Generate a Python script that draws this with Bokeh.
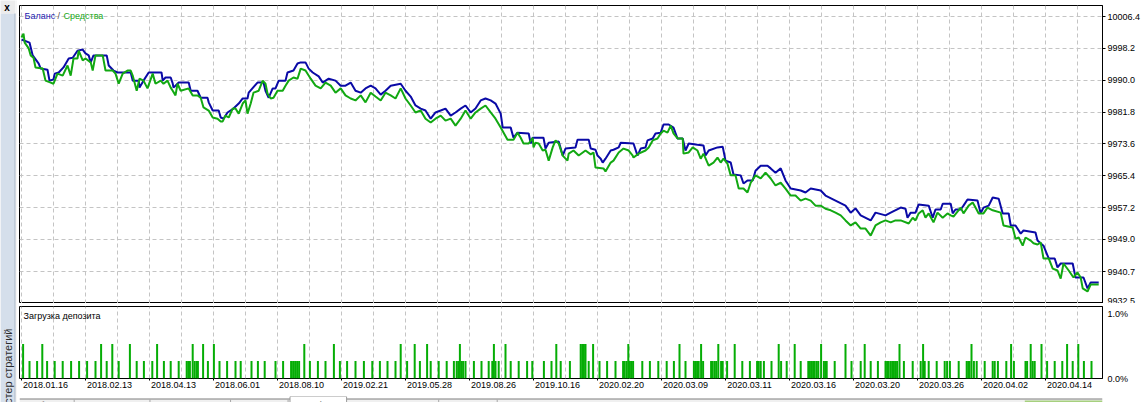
import math
from bokeh.plotting import figure
from bokeh.layouts import row, column
from bokeh.models import Range1d, FixedTicker, LinearAxis, Grid
from bokeh.core.properties import value
from bokeh.embed import file_html
from bokeh.resources import INLINE

# ---------------- data ----------------
tick_trades = [0, 16, 32, 48, 64, 80, 96, 112, 128, 144, 160, 176, 192, 208, 224, 240, 256]
tick_dates = ["2018.01.16", "2018.02.13", "2018.04.13", "2018.06.01", "2018.08.10",
              "2019.02.21", "2019.05.28", "2019.08.26", "2019.10.16", "2020.02.20",
              "2020.03.09", "2020.03.11", "2020.03.16", "2020.03.20", "2020.03.26",
              "2020.04.02", "2020.04.14"]
grid_trades = list(range(0, 271, 8))

y_ticks = [9932.5, 9940.7, 9949.0, 9957.2, 9965.4, 9973.6, 9981.8, 9990.0, 9998.2, 10006.4]
y_tick_labels = ["9932.5", "9940.7", "9949.0", "9957.2", "9965.4", "9973.6", "9981.8",
                 "9990.0", "9998.2", "10006.4"]
load_ticks = [0.0, 1.0]
load_tick_labels = ["0.0%", "1.0%"]

balance_trade = [
    0.0, 2.0, 2.8, 4.3, 4.8, 6.5, 7.0, 8.0, 8.3, 9.3, 10.5, 11.8, 12.8, 14.0, 15.3, 16.0, 16.8, 17.3,
    18.0, 21.3, 21.8, 23.0, 24.0, 27.3, 27.8, 29.3, 29.5, 30.5, 31.8, 35.0, 35.3, 36.0, 37.3, 37.8,
    38.0, 39.3, 41.8, 42.3, 44.0, 44.8, 46.5, 46.8, 47.8, 49.3, 49.8, 50.5, 51.5, 53.0, 54.3, 55.3,
    56.5, 56.8, 59.0, 60.5, 61.0, 61.8, 62.8, 63.5, 64.3, 66.0, 66.5, 68.0, 69.0, 69.8, 71.0, 71.8,
    72.8, 74.3, 75.3, 76.8, 78.5, 79.8, 81.0, 82.3, 83.5, 84.8, 86.0, 87.3, 88.5, 89.8, 91.0, 92.3,
    94.8, 96.0, 97.3, 98.5, 99.8, 101.0, 102.3, 103.5, 104.8, 106.0, 107.3, 108.5, 109.8, 111.0,
    112.3, 113.5, 114.8, 116.0, 117.3, 118.5, 119.8, 120.3, 122.3, 123.0, 124.0, 126.8, 127.3,
    127.8, 130.5, 131.0, 131.8, 134.3, 135.3, 136.0, 138.5, 139.0, 141.8, 142.3, 143.5, 144.0,
    144.8, 145.3, 146.0, 147.3, 148.0, 149.3, 149.8, 153.0, 154.0, 154.8, 156.0, 156.5, 157.8,
    158.5, 159.8, 160.5, 161.8, 163.0, 164.0, 165.3, 166.0, 166.8, 169.0, 170.5, 171.0, 171.8,
    174.0, 175.3, 176.0, 177.3, 178.0, 179.8, 180.5, 181.5, 182.8, 183.5, 184.8, 186.5, 187.3,
    188.5, 189.8, 191.0, 192.3, 194.8, 196.0, 197.3, 199.8, 201.0, 203.5, 206.0, 207.3, 208.5,
    209.8, 212.3, 213.5, 216.0, 217.3, 219.8, 221.0, 221.5, 222.3, 223.5, 224.3, 226.8, 227.8,
    228.5, 229.8, 230.3, 232.3, 232.8, 233.5, 234.8, 235.5, 236.5, 239.0, 239.8, 240.5, 241.8,
    242.8, 244.3, 245.3, 246.8, 247.3, 248.5, 249.8, 250.5, 253.5, 254.0, 255.5, 256.8, 258.3,
    259.0, 259.8, 262.8, 263.5, 265.5, 266.5, 267.3, 269.3]
balance_value = [
    10000.5, 9999.7, 9996.4, 9994.3, 9993.0, 9992.7, 9989.9, 9990.2, 9991.7, 9992.0, 9993.3, 9995.6,
    9995.8, 9997.6, 9997.9, 9996.9, 9996.4, 9994.6, 9996.4, 9996.4, 9993.8, 9992.5, 9992.0, 9992.0,
    9989.9, 9989.9, 9988.1, 9989.9, 9992.0, 9992.0, 9989.9, 9990.7, 9990.7, 9989.2, 9988.1, 9989.4,
    9989.4, 9987.3, 9987.3, 9985.5, 9985.5, 9984.3, 9982.2, 9982.2, 9980.4, 9980.1, 9981.7, 9982.7,
    9984.0, 9985.3, 9985.3, 9986.8, 9989.4, 9989.4, 9987.3, 9985.5, 9987.9, 9987.9, 9989.9, 9989.9,
    9992.0, 9992.5, 9994.3, 9994.6, 9994.6, 9993.0, 9992.0, 9991.0, 9989.4, 9990.4, 9989.9, 9988.6,
    9988.6, 9989.4, 9987.3, 9986.8, 9987.9, 9988.6, 9987.9, 9986.3, 9987.3, 9988.6, 9989.1, 9987.3,
    9985.8, 9983.5, 9982.7, 9982.2, 9980.1, 9981.7, 9982.2, 9982.7, 9980.9, 9981.7, 9982.7, 9983.5,
    9981.7, 9982.7, 9984.8, 9985.3, 9984.8, 9984.0, 9981.4, 9977.8, 9977.8, 9975.2, 9976.5, 9976.3,
    9973.7, 9975.2, 9975.2, 9972.4, 9973.9, 9974.2, 9970.6, 9972.4, 9972.7, 9974.7, 9974.7, 9972.4,
    9972.1, 9970.6, 9969.8, 9968.8, 9969.8, 9971.9, 9972.1, 9972.7, 9973.9, 9973.7, 9970.6, 9972.4,
    9972.7, 9974.5, 9975.0, 9976.3, 9976.5, 9978.6, 9978.6, 9977.8, 9975.0, 9975.0, 9971.9, 9973.7,
    9973.4, 9973.2, 9970.6, 9971.9, 9972.7, 9972.9, 9969.3, 9968.8, 9965.7, 9965.5, 9963.4, 9964.2,
    9964.2, 9966.7, 9968.0, 9968.0, 9967.3, 9966.2, 9967.3, 9964.2, 9962.1, 9961.6, 9961.1, 9962.1,
    9961.6, 9960.3, 9959.0, 9957.7, 9955.9, 9957.0, 9955.2, 9953.9, 9955.9, 9955.2, 9955.9, 9957.2,
    9956.9, 9954.6, 9955.9, 9955.9, 9958.0, 9957.7, 9954.6, 9956.7, 9956.7, 9958.2, 9958.2, 9955.7,
    9956.7, 9956.7, 9957.7, 9959.3, 9959.0, 9955.7, 9957.2, 9957.7, 9959.8, 9959.5, 9955.7, 9955.7,
    9952.6, 9952.6, 9950.5, 9951.3, 9950.8, 9948.7, 9947.4, 9944.1, 9944.1, 9941.8, 9942.8, 9942.8,
    9939.2, 9939.2, 9936.4, 9937.9, 9937.9]

equity_trade = [
    0.0, 0.5, 0.8, 1.8, 2.3, 3.0, 3.5, 5.3, 6.0, 7.3, 8.0, 9.0, 10.3, 11.5, 12.3, 13.0, 14.0, 14.3,
    15.3, 16.0, 17.3, 17.8, 18.5, 20.3, 21.0, 22.8, 23.5, 24.3, 25.3, 26.5, 27.3, 27.8, 28.8, 29.5,
    30.5, 31.5, 32.8, 33.5, 34.8, 35.5, 36.5, 37.3, 37.8, 38.5, 39.0, 39.8, 41.8, 42.8, 44.0, 44.8,
    45.5, 46.8, 47.8, 49.0, 49.8, 50.3, 51.0, 51.8, 52.8, 53.5, 54.3, 55.3, 56.0, 56.5, 57.3, 58.0,
    59.3, 60.3, 61.0, 61.5, 62.3, 63.0, 64.0, 65.3, 66.0, 66.8, 68.0, 69.0, 69.8, 71.0, 72.3, 73.5,
    74.8, 76.0, 77.3, 78.5, 79.8, 81.0, 82.3, 83.5, 84.8, 86.0, 87.3, 88.5, 89.8, 91.0, 92.3, 93.5,
    94.8, 96.0, 97.3, 98.5, 99.8, 101.0, 102.3, 103.5, 104.8, 106.0, 107.3, 108.5, 109.8, 111.0,
    112.3, 113.5, 114.8, 116.0, 117.3, 118.5, 119.8, 121.5, 123.0, 124.0, 124.8, 125.5, 126.8,
    127.8, 128.0, 128.5, 129.3, 130.3, 131.0, 131.8, 132.8, 133.5, 134.3, 135.3, 136.5, 136.8,
    138.0, 139.3, 141.0, 142.3, 143.0, 143.5, 145.5, 146.0, 147.3, 148.0, 149.3, 150.5, 151.8,
    152.8, 153.0, 154.3, 156.0, 156.8, 157.8, 159.0, 159.8, 160.5, 161.5, 162.3, 163.0, 164.0,
    165.3, 165.5, 166.8, 167.8, 169.0, 169.8, 170.5, 171.8, 173.0, 174.0, 174.8, 175.5, 176.5,
    177.3, 178.5, 179.3, 180.5, 181.5, 182.3, 183.5, 184.8, 186.0, 187.3, 188.5, 189.8, 191.0,
    192.3, 193.5, 194.8, 196.0, 197.3, 198.5, 199.8, 201.0, 202.3, 203.5, 204.8, 206.0, 207.3,
    208.5, 209.8, 211.0, 212.3, 213.5, 214.8, 216.0, 217.3, 218.5, 219.8, 221.8, 222.8, 223.5,
    224.3, 225.3, 226.0, 226.8, 228.0, 229.0, 230.3, 231.5, 232.3, 233.0, 234.8, 235.5, 236.8,
    237.8, 238.5, 239.3, 240.5, 241.5, 242.8, 244.8, 245.5, 247.8, 248.5, 249.3, 250.3, 251.0,
    252.3, 253.0, 254.0, 254.8, 255.5, 256.8, 257.8, 259.0, 259.8, 260.5, 261.8, 263.0, 264.0,
    264.8, 265.3, 266.5, 267.3, 269.3]
equity_value = [
    10001.0, 10002.0, 9999.7, 9998.2, 9996.4, 9995.8, 9993.3, 9993.0, 9989.9, 9989.4, 9989.1,
    9991.7, 9991.2, 9993.8, 9991.2, 9995.6, 9995.6, 9997.6, 9995.1, 9995.6, 9994.6, 9992.5, 9996.4,
    9996.4, 9992.5, 9992.5, 9991.7, 9989.1, 9991.7, 9992.5, 9992.5, 9991.2, 9987.3, 9990.4, 9989.9,
    9987.9, 9991.7, 9989.1, 9989.9, 9989.1, 9989.9, 9988.1, 9987.3, 9986.1, 9989.1, 9987.3, 9987.9,
    9986.1, 9986.1, 9985.5, 9983.0, 9982.2, 9980.4, 9980.1, 9979.4, 9979.4, 9980.9, 9980.4, 9982.7,
    9982.7, 9981.4, 9984.0, 9984.8, 9981.4, 9984.0, 9986.8, 9987.3, 9989.9, 9989.1, 9986.6, 9985.3,
    9985.5, 9987.3, 9987.3, 9988.6, 9989.9, 9990.7, 9990.4, 9993.0, 9992.5, 9990.4, 9988.6, 9987.9,
    9989.4, 9988.6, 9986.8, 9987.9, 9986.1, 9985.3, 9984.8, 9986.1, 9984.3, 9986.8, 9985.8, 9984.8,
    9986.8, 9986.1, 9985.3, 9987.9, 9985.3, 9983.5, 9981.7, 9982.2, 9980.1, 9979.1, 9980.1, 9980.9,
    9979.6, 9980.1, 9978.3, 9980.1, 9982.2, 9980.1, 9981.7, 9982.7, 9983.5, 9981.7, 9980.1, 9977.8,
    9974.7, 9974.7, 9976.5, 9975.2, 9973.7, 9973.7, 9975.2, 9972.7, 9973.9, 9973.7, 9971.9, 9972.1,
    9969.3, 9972.7, 9974.5, 9973.7, 9970.6, 9969.3, 9971.1, 9971.9, 9970.6, 9971.9, 9970.9, 9971.4,
    9967.5, 9967.3, 9966.5, 9968.8, 9969.3, 9971.4, 9972.4, 9971.9, 9970.6, 9970.1, 9971.1, 9971.9,
    9972.7, 9974.5, 9975.0, 9976.3, 9977.0, 9976.5, 9978.3, 9976.3, 9975.0, 9975.0, 9971.1, 9971.4,
    9972.7, 9971.9, 9969.8, 9971.1, 9968.0, 9968.8, 9970.1, 9968.8, 9969.8, 9968.5, 9965.5, 9965.5,
    9962.1, 9962.1, 9961.1, 9963.6, 9965.5, 9964.7, 9966.2, 9964.7, 9962.9, 9963.6, 9962.1, 9960.3,
    9960.3, 9959.0, 9959.5, 9959.0, 9957.7, 9957.7, 9956.9, 9956.5, 9955.9, 9955.2, 9953.9, 9952.6,
    9953.4, 9951.8, 9951.8, 9950.0, 9952.6, 9953.4, 9953.9, 9953.4, 9953.9, 9953.9, 9953.1, 9954.6,
    9953.9, 9955.7, 9956.5, 9954.6, 9955.7, 9953.4, 9955.9, 9954.6, 9955.7, 9955.2, 9954.9, 9957.2,
    9955.7, 9957.7, 9958.5, 9957.2, 9955.7, 9955.7, 9957.2, 9956.5, 9955.9, 9952.6, 9952.1, 9949.2,
    9949.5, 9947.4, 9949.5, 9948.7, 9948.0, 9947.7, 9948.2, 9944.1, 9944.1, 9941.5, 9941.0, 9938.9,
    9942.8, 9941.0, 9939.2, 9940.5, 9939.2, 9936.4, 9935.6, 9937.4, 9937.4]

load_trade = [
    0.4, 2.0, 3.9, 5.2, 6.4, 8.3, 10.3, 12.4, 14.4, 16.4,
    18.5, 19.9, 21.3, 22.7, 24.3, 27.1, 28.8, 30.6, 32.7, 33.9,
    35.6, 37.3, 39.3, 41.3, 41.7, 42.1, 42.8, 43.3, 43.8, 44.1,
    45.4, 46.6, 48.1, 49.5, 51.4, 53.5, 54.8, 57.5, 59.1, 60.8,
    63.5, 65.4, 67.4, 67.9, 68.4, 68.9, 69.4, 70.7, 72.1, 74.1,
    76.0, 78.1, 79.6, 81.4, 83.5, 85.6, 87.7, 89.6, 91.5, 93.5,
    94.8, 96.4, 98.3, 99.6, 101.4, 102.3, 104.3, 106.3, 108.1, 108.8,
    109.2, 109.6, 110.0, 110.4, 111.0, 113.1, 115.0, 116.8, 117.7, 118.1,
    118.5, 119.3, 121.0, 122.3, 124.3, 126.4, 127.7, 130.6, 132.5, 133.7,
    134.8, 137.1, 139.8, 140.2, 140.6, 141.0, 141.8, 142.9, 144.5, 146.4,
    148.5, 150.4, 150.8, 151.3, 151.7, 152.1, 152.5, 152.9, 155.2, 157.1,
    159.2, 161.3, 163.1, 164.5, 166.0, 168.1, 168.5, 168.9, 169.3, 169.9,
    170.4, 172.4, 172.8, 173.3, 173.7, 174.2, 174.9, 175.3, 176.4, 178.3,
    180.2, 182.1, 183.9, 184.3, 184.8, 185.6, 187.5, 189.3, 189.9, 191.3,
    193.3, 194.8, 196.7, 197.1, 197.5, 197.9, 198.3, 198.8, 199.2, 199.9,
    200.6, 201.0, 201.3, 203.3, 206.0, 207.5, 209.8, 210.8, 212.3, 214.1,
    216.0, 216.4, 216.8, 217.3, 217.7, 218.1, 218.5, 218.9, 219.5, 220.6,
    222.8, 224.8, 225.4, 225.8, 226.8, 228.8, 230.8, 231.4, 232.1, 234.3,
    236.3, 236.7, 237.0, 237.5, 238.1, 238.8, 240.8, 242.8, 243.3, 244.1,
    246.2, 247.4, 248.1, 251.0, 251.4, 252.3, 252.8, 253.3, 255.0, 256.4,
    258.3, 260.2, 261.4, 262.8, 264.2, 265.6, 267.5]
load_pct = [
    0.53, 0.27, 0.27, 0.53, 0.27, 0.27, 0.27, 0.27, 0.27, 0.27,
    0.27, 0.53, 0.27, 0.53, 0.27, 0.53, 0.27, 0.27, 0.27, 0.53,
    0.27, 0.27, 0.27, 0.27, 0.27, 0.27, 0.53, 0.27, 0.27, 0.27,
    0.53, 0.27, 0.53, 0.27, 0.27, 0.27, 0.27, 0.27, 0.27, 0.27,
    0.27, 0.27, 0.27, 0.27, 0.27, 0.27, 0.27, 0.53, 0.27, 0.27,
    0.27, 0.53, 0.27, 0.27, 0.27, 0.27, 0.27, 0.27, 0.27, 0.27,
    0.53, 0.27, 0.53, 0.27, 0.53, 0.27, 0.27, 0.27, 0.27, 0.27,
    0.27, 0.53, 0.27, 0.27, 0.27, 0.27, 0.27, 0.27, 0.27, 0.53,
    0.27, 0.27, 0.53, 0.27, 0.27, 0.27, 0.27, 0.27, 0.27, 0.53,
    0.27, 0.27, 0.53, 0.53, 0.53, 0.53, 0.27, 0.53, 0.27, 0.27,
    0.27, 0.27, 0.27, 0.27, 0.53, 0.27, 0.27, 0.27, 0.27, 0.27,
    0.27, 0.27, 0.27, 0.53, 0.27, 0.27, 0.27, 0.27, 0.27, 0.53,
    0.27, 0.27, 0.27, 0.27, 0.27, 0.53, 0.27, 0.27, 0.27, 0.53,
    0.27, 0.27, 0.27, 0.27, 0.27, 0.27, 0.27, 0.53, 0.27, 0.27,
    0.53, 0.27, 0.27, 0.27, 0.27, 0.27, 0.27, 0.27, 0.27, 0.53,
    0.27, 0.27, 0.27, 0.27, 0.53, 0.27, 0.27, 0.53, 0.27, 0.27,
    0.27, 0.27, 0.27, 0.27, 0.27, 0.27, 0.27, 0.27, 0.53, 0.27,
    0.27, 0.27, 0.53, 0.27, 0.27, 0.27, 0.27, 0.27, 0.27, 0.27,
    0.27, 0.27, 0.27, 0.53, 0.27, 0.27, 0.27, 0.27, 0.27, 0.27,
    0.27, 0.53, 0.27, 0.27, 0.27, 0.53, 0.27, 0.27, 0.53, 0.27,
    0.27, 0.27, 0.53, 0.27, 0.53, 0.27, 0.27]

title_parts = ["Баланс", "/", "Средства"]
load_title = "Загрузка депозита"
side_title = "Тестер стратегий"
tab_labels = ["Обзор", "Настройки", "Параметры", "Бэктест", "График", "Оптимизация", "Агенты", "Журнал"]

# ---------------- style / geometry ----------------
FONT = "Liberation Sans"
BLUE = "#0a0aa6"
GREEN = "#12a812"
BAR_GREEN = "#05ad05"
GRID = "#c4c4c4"
SIDE_W = 17
FRAME_W = 1083
TOP_FRAME_H = 298
BOT_FRAME_H = 72
PX_PER_TRADE = 4.0
X0 = -0.5
Y_MIN, Y_MAX = 9932.5, 10009.25
LOAD_MAX = 1.108

xr = Range1d(X0, X0 + FRAME_W / PX_PER_TRADE)


def x_at(px):
    return X0 + (px - 19) / PX_PER_TRADE


def top_y_at(py):
    return Y_MAX - (py - 5) * (Y_MAX - Y_MIN) / TOP_FRAME_H


def bot_y_at(py):
    return LOAD_MAX - (py - 306) * LOAD_MAX / BOT_FRAME_H


def base(**kw):
    return figure(toolbar_location=None, output_backend="svg", **kw)


# ---------------- top: balance / equity ----------------
top = base(frame_width=FRAME_W, frame_height=TOP_FRAME_H, x_range=xr,
           y_range=Range1d(Y_MIN, Y_MAX), x_axis_type=None, y_axis_location="right",
           min_border_left=2, min_border_right=44, min_border_top=5, min_border_bottom=0,
           background_fill_color="white", border_fill_color="white",
           outline_line_color="black", outline_line_width=1)
ya = top.yaxis[0]
ya.ticker = FixedTicker(ticks=y_ticks)
ya.major_label_overrides = dict(zip(y_ticks, y_tick_labels))
ya.major_tick_out = 3
ya.major_tick_in = 0
ya.minor_tick_out = 0
ya.minor_tick_in = 0
ya.major_label_standoff = 2
ya.major_label_text_font = FONT
ya.major_label_text_font_size = "9px"
ya.major_label_text_color = "black"
ya.axis_line_color = "black"
top.ygrid.grid_line_color = GRID
top.ygrid.grid_line_dash = "4 3"
top.add_layout(Grid(dimension=0, ticker=FixedTicker(ticks=grid_trades),
                    grid_line_color=GRID, grid_line_dash="4 3"), "center")

top.line(balance_trade, balance_value, line_color=BLUE, line_width=2)
top.line(equity_trade, equity_value, line_color=GREEN, line_width=2)

title_px = [24, 57, 63]
title_colors = ["#1c1cb0", "#505050", "#18a818"]
top.text(x=[x_at(p) for p in title_px], y=[top_y_at(15)] * 3, text=title_parts,
         text_color=title_colors, text_font=value(FONT), text_font_size=value("9px"),
         text_align="left", text_baseline="middle")

# ---------------- bottom: deposit load ----------------
bot = base(frame_width=FRAME_W, frame_height=BOT_FRAME_H, x_range=xr,
           y_range=Range1d(0, LOAD_MAX), x_axis_type=None, y_axis_location="right",
           min_border_left=2, min_border_right=44, min_border_top=3, min_border_bottom=15,
           background_fill_color="white", border_fill_color="white",
           outline_line_color="black", outline_line_width=1)
yb = bot.yaxis[0]
yb.ticker = FixedTicker(ticks=load_ticks)
yb.major_label_overrides = dict(zip(load_ticks, load_tick_labels))
yb.major_tick_out = 0
yb.major_tick_in = 0
yb.minor_tick_out = 0
yb.minor_tick_in = 0
yb.major_label_standoff = 5
yb.major_label_text_font = FONT
yb.major_label_text_font_size = "9px"
yb.major_label_text_color = "black"
yb.axis_line_color = "black"
bot.ygrid.visible = False
bot.add_layout(Grid(dimension=0, ticker=FixedTicker(ticks=grid_trades),
                    grid_line_color=GRID, grid_line_dash="4 3"), "center")

bot.vbar(x=load_trade, top=load_pct, bottom=0, width=0.5, fill_color=BAR_GREEN, line_color=None)
bot.text(x=[x_at(23)], y=[bot_y_at(315)], text=[load_title], text_color="black",
         text_font=value(FONT), text_font_size=value("9px"), text_align="left",
         text_baseline="middle")

# tick marks only (no labels drawn)
tick_axis = LinearAxis(ticker=FixedTicker(ticks=tick_trades), major_tick_out=2, major_tick_in=0,
                       minor_tick_out=0, minor_tick_in=0, axis_line_color=None,
                       major_tick_line_color="black", major_label_text_font_size="0px",
                       major_label_text_color=None, major_label_standoff=0)
bot.add_layout(tick_axis, "below")
# date labels, shifted so each one starts just right of its tick mark
label_shift = 24 / PX_PER_TRADE
label_pos = [t + label_shift for t in tick_trades]
label_axis = LinearAxis(ticker=FixedTicker(ticks=label_pos),
                        major_label_overrides=dict(zip(label_pos, tick_dates)),
                        major_tick_out=0, major_tick_in=0, minor_tick_out=0, minor_tick_in=0,
                        axis_line_color=None, major_label_standoff=1,
                        major_label_text_font=FONT, major_label_text_font_size="9px",
                        major_label_text_color="black")
bot.add_layout(label_axis, "below")

# ---------------- bottom tab strip ----------------
tabs = base(width=1146 - SIDE_W, height=9, x_range=Range1d(SIDE_W, 1146), y_range=Range1d(402, 393),
            x_axis_type=None, y_axis_type=None, min_border=0, outline_line_color=None,
            background_fill_color="white", border_fill_color="white")
tabs.quad(left=[SIDE_W], right=[1146], top=[395.5], bottom=[402], fill_color="#f0f0f0", line_color=None)
tabs.segment(x0=[SIDE_W, 358], y0=[395.5, 395.5], x1=[299, 1146], y1=[395.5, 395.5],
             line_color="#7d7d7d", line_width=1)
tabs.quad(left=[299], right=[358], top=[393], bottom=[402], fill_color="white",
          line_color="#9a9a9a", line_width=1)
div_x = [74, 153, 237, 297, 454, 515]
tabs.segment(x0=div_x, y0=[396] * len(div_x), x1=div_x, y1=[402] * len(div_x),
             line_color="#a8a8a8", line_width=1)
tab_x = [28, 84, 163, 247, 308, 370, 465, 523]
tabs.text(x=tab_x, y=[396] * len(tab_x), text=tab_labels, text_color="black",
          text_font=value(FONT), text_font_size=value("11px"), text_align="left",
          text_baseline="top")
tabs.quad(left=[1065], right=[1146], top=[397], bottom=[402], fill_color="#a6d07e", line_color=None)

# ---------------- left sidebar ----------------
side = base(width=SIDE_W, height=402, x_range=Range1d(0, SIDE_W), y_range=Range1d(402, 0),
            x_axis_type=None, y_axis_type=None, min_border=0, outline_line_color=None,
            background_fill_color="#f6f6f6", border_fill_color="#f6f6f6")
side.quad(left=[0], right=[14.5], top=[13], bottom=[402], fill_color="#d5dfeb", line_color=None)
side.quad(left=[0], right=[14.5], top=[0], bottom=[13], fill_color="#ececec", line_color=None)
side.segment(x0=[14.5], y0=[13], x1=[14.5], y1=[402], line_color="#a9b6c6")
side.text(x=[6.5], y=[6.5], text=["x"], text_color="black", text_font=value(FONT),
          text_font_size=value("10px"), text_font_style="bold", text_align="center",
          text_baseline="middle")
side.text(x=[7.8], y=[328], text=[side_title], angle=math.pi / 2, text_color="#2c2c2c",
          text_font=value(FONT), text_font_size=value("11px"), text_align="right",
          text_baseline="middle")

layout = row(side, column(top, bot, tabs, spacing=0), spacing=0)
open("out.html", "w").write(file_html(layout, INLINE))
